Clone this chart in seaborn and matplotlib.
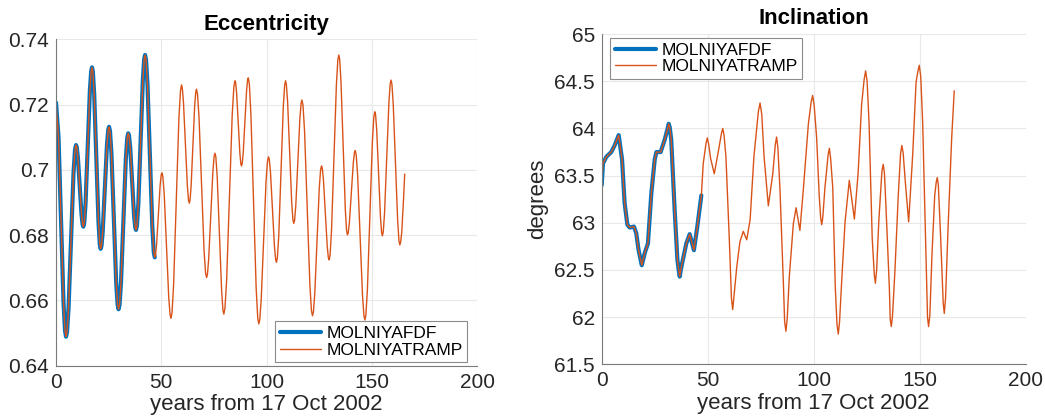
import seaborn as sns
import matplotlib.pyplot as plt
import pandas as pd

# eccentricity (years, value)
ecc_t = [0.0, 1.19, 3.56, 4.28,
         4.75, 5.23, 5.94, 8.31, 9.03,
         9.5, 9.85, 10.38, 12.13, 12.65,
         13.0, 13.41, 14.03, 16.08, 16.69,
         17.1, 17.51, 18.13, 20.18, 20.79,
         21.2, 21.6, 22.2, 24.2, 24.8,
         25.2, 25.65, 26.33, 28.58, 29.25,
         29.7, 30.16, 30.85, 33.15, 33.84,
         34.3, 34.67, 35.23, 37.08, 37.63,
         38.0, 38.43, 39.08, 41.23, 41.87,
         42.3, 42.76, 43.45, 45.75, 46.44,
         46.9, 47.24, 47.75, 49.45, 49.96,
         50.3, 50.73, 51.38, 53.53, 54.17,
         54.6, 55.1, 55.85, 58.35, 59.1,
         59.6, 59.97, 60.53, 62.38, 62.93,
         63.3, 63.64, 64.15, 65.85, 66.36,
         66.7, 67.18, 67.9, 70.3, 71.02,
         71.5, 71.9, 72.5, 74.5, 75.1,
         75.5, 75.92, 76.55, 78.65, 79.28,
         79.7, 80.23, 81.03, 83.68, 84.47,
         85.0, 85.31, 85.78, 87.33, 87.79,
         88.1, 88.42, 88.9, 90.5, 90.98,
         91.3, 91.8, 92.55, 95.05, 95.8,
         96.3, 96.76, 97.45, 99.75, 100.44,
         100.9, 101.28, 101.85, 103.75, 104.32,
         104.7, 105.13, 105.78, 107.93, 108.57,
         109.0, 109.39, 109.98, 111.93, 112.51,
         112.9, 113.29, 113.88, 115.83, 116.41,
         116.8, 117.3, 118.05, 120.55, 121.3,
         121.8, 122.23, 122.88, 125.03, 125.67,
         126.1, 126.46, 127.0, 128.8, 129.34,
         129.7, 130.16, 130.85, 133.15, 133.84,
         134.3, 134.71, 135.33, 137.38, 137.99,
         138.4, 138.77, 139.33, 141.18, 141.73,
         142.1, 142.56, 143.25, 145.55, 146.24,
         146.7, 147.17, 147.88, 150.23, 150.93,
         151.4, 151.76, 152.3, 154.1, 154.64,
         155.0, 155.41, 156.03, 158.08, 158.69,
         159.1, 159.52, 160.15, 162.25, 162.88,
         163.3, 163.7, 164.2, 165.0, 165.6]
ecc_v = [0.7206, 0.7101, 0.6594, 0.6507,
         0.6489, 0.6503, 0.6575, 0.6990, 0.7062,
         0.7076, 0.7070, 0.7039, 0.6862, 0.6832,
         0.6826, 0.6838, 0.6897, 0.7243, 0.7302,
         0.7314, 0.7300, 0.7233, 0.6839, 0.6772,
         0.6758, 0.6767, 0.6813, 0.7077, 0.7123,
         0.7132, 0.7118, 0.7050, 0.6655, 0.6587,
         0.6573, 0.6586, 0.6652, 0.7033, 0.7099,
         0.7112, 0.7105, 0.7069, 0.6859, 0.6823,
         0.6816, 0.6829, 0.6894, 0.7274, 0.7339,
         0.7352, 0.7337, 0.7261, 0.6823, 0.6747,
         0.6732, 0.6738, 0.6770, 0.6953, 0.6985,
         0.6991, 0.6980, 0.6926, 0.6610, 0.6556,
         0.6545, 0.6563, 0.6649, 0.7156, 0.7242,
         0.7260, 0.7251, 0.7207, 0.6951, 0.6907,
         0.6898, 0.6907, 0.6949, 0.7196, 0.7238,
         0.7247, 0.7233, 0.7163, 0.6754, 0.6684,
         0.6670, 0.6679, 0.6726, 0.6995, 0.7042,
         0.7051, 0.7039, 0.6979, 0.6630, 0.6570,
         0.6558, 0.6576, 0.6662, 0.7169, 0.7255,
         0.7273, 0.7267, 0.7235, 0.7050, 0.7018,
         0.7012, 0.7019, 0.7051, 0.7243, 0.7275,
         0.7282, 0.7264, 0.7172, 0.6638, 0.6546,
         0.6528, 0.6541, 0.6603, 0.6965, 0.7027,
         0.7040, 0.7032, 0.6993, 0.6764, 0.6725,
         0.6717, 0.6731, 0.6798, 0.7192, 0.7259,
         0.7273, 0.7262, 0.7209, 0.6900, 0.6847,
         0.6836, 0.6845, 0.6891, 0.7159, 0.7205,
         0.7214, 0.7198, 0.7117, 0.6650, 0.6569,
         0.6553, 0.6564, 0.6620, 0.6945, 0.7001,
         0.7012, 0.7005, 0.6970, 0.6766, 0.6731,
         0.6724, 0.6739, 0.6816, 0.7260, 0.7337,
         0.7352, 0.7339, 0.7272, 0.6881, 0.6814,
         0.6801, 0.6807, 0.6839, 0.7021, 0.7053,
         0.7059, 0.7046, 0.6983, 0.6616, 0.6553,
         0.6540, 0.6556, 0.6633, 0.7085, 0.7162,
         0.7178, 0.7169, 0.7123, 0.6853, 0.6807,
         0.6798, 0.6810, 0.6868, 0.7205, 0.7263,
         0.7275, 0.7263, 0.7201, 0.6844, 0.6782,
         0.6770, 0.6780, 0.6810, 0.6905, 0.6987]

# inclination (years, degrees)
inc_t = [0.0, 0.6, 2.2, 4.5, 6.1, 8.0, 9.6, 10.8, 12.1, 13.2,
         15.2, 16.3, 17.4, 18.9, 20.3, 21.8, 23.4, 25.0, 25.8, 27.8,
         29.7, 31.1, 31.6, 32.1, 32.8, 34.4, 35.7, 36.3, 36.8, 37.3,
         38.3, 39.9, 41.5, 43.5, 45.1, 47.0, 47.9, 49.2, 49.8, 50.4,
         51.4, 53.1, 55.2, 56.5, 57.1, 57.7, 58.6, 60.2, 61.2, 61.8,
         62.4, 63.7, 65.2, 66.8, 68.4, 70.0, 71.8, 73.9, 74.7, 75.5,
         76.6, 78.6, 80.7, 81.9, 82.5, 83.1, 84.1, 85.7, 86.3, 86.9,
         87.5, 88.5, 90.4, 91.7, 93.5, 95.1, 97.5, 98.8, 99.5, 100.2,
         101.4, 102.6, 103.3, 103.8, 104.3, 105.3, 106.8, 107.4, 108.0, 109.0,
         110.2, 111.0, 111.6, 112.2, 113.2, 114.8, 116.8, 119.2, 121.0, 122.6,
         123.8, 124.5, 125.2, 126.1, 127.6, 128.6, 129.1, 129.7, 130.7, 132.2,
         132.8, 133.4, 134.4, 135.7, 136.1, 136.6, 137.2, 138.3, 139.9, 141.0,
         141.6, 142.2, 143.2, 144.8, 146.7, 148.3, 149.1, 149.8, 150.5, 151.4,
         153.0, 153.7, 154.2, 154.8, 155.8, 157.1, 157.8, 158.3, 158.8, 159.9,
         161.1, 161.6, 162.2, 163.5, 165.1, 166.3]
inc_v = [63.40, 63.63, 63.70, 63.75, 63.82, 63.93, 63.67, 63.21, 62.98, 62.95,
         62.96, 62.89, 62.71, 62.55, 62.68, 62.78, 63.31, 63.67, 63.75, 63.75,
         63.88, 64.00, 64.05, 64.01, 63.88, 63.14, 62.61, 62.50, 62.43, 62.50,
         62.61, 62.78, 62.88, 62.71, 62.96, 63.29, 63.63, 63.84, 63.90, 63.84,
         63.68, 63.52, 63.78, 63.95, 64.00, 63.93, 63.70, 62.82, 62.20, 62.08,
         62.22, 62.53, 62.80, 62.91, 62.82, 63.03, 63.70, 64.18, 64.27, 64.15,
         63.70, 63.18, 63.52, 63.83, 63.91, 63.80, 63.35, 62.36, 61.95, 61.85,
         61.98, 62.43, 62.99, 63.16, 62.92, 63.35, 64.05, 64.28, 64.35, 64.25,
         63.90, 63.29, 63.05, 62.98, 63.06, 63.37, 63.72, 63.79, 63.68, 63.37,
         62.31, 61.92, 61.82, 61.95, 62.38, 63.01, 63.45, 63.04, 63.54, 64.25,
         64.52, 64.61, 64.50, 64.07, 62.84, 62.45, 62.36, 62.50, 63.01, 63.55,
         63.62, 63.52, 63.01, 62.31, 61.98, 61.90, 62.02, 62.48, 63.29, 63.74,
         63.82, 63.74, 63.44, 63.01, 63.72, 64.49, 64.60, 64.67, 64.55, 64.07,
         62.66, 62.00, 61.90, 62.02, 62.66, 63.29, 63.43, 63.48, 63.40, 62.84,
         62.15, 62.04, 62.20, 63.01, 63.90, 64.40]

afdf_end = 47.0  # MOLNIYAFDF only runs this far

ecc_yticks = [0.64, 0.66, 0.68, 0.70, 0.72, 0.74]
inc_yticks = [61.5, 62, 62.5, 63, 63.5, 64, 64.5, 65]
xticks = [0, 50, 100, 150, 200]

blue = "#0072BD"
orange = "#D95319"
txt = "#262626"

sns.set_style("white")
plt.rcParams["font.family"] = ["Liberation Sans", "DejaVu Sans"]

fig = plt.figure(figsize=(10.45, 4.19), dpi=100)
ax1 = fig.add_axes([0.0536, 0.1272, 0.403, 0.779])
ax2 = fig.add_axes([0.5758, 0.1305, 0.4057, 0.788])

ecc = pd.DataFrame({"t": ecc_t, "v": ecc_v})
inc = pd.DataFrame({"t": inc_t, "v": inc_v})


def draw(ax, df, title, yticks):
    short = df[df["t"] <= afdf_end]
    sns.lineplot(data=short, x="t", y="v", ax=ax, color=blue, lw=3.0,
                 estimator=None, sort=False, label="MOLNIYAFDF")
    sns.lineplot(data=df, x="t", y="v", ax=ax, color=orange, lw=1.0,
                 estimator=None, sort=False, label="MOLNIYATRAMP")
    ax.set_xlim(0, 200)
    ax.set_ylim(yticks[0], yticks[-1])
    ax.set_xticks(xticks)
    ax.set_yticks(yticks)
    ax.set_yticklabels([f"{v:g}" for v in yticks])
    ax.grid(True, color="#e8e8e8", lw=0.8)
    for side in ["top", "right"]:
        ax.spines[side].set_visible(False)
    for side in ["left", "bottom"]:
        ax.spines[side].set_color("#7a7a7a")
        ax.spines[side].set_linewidth(0.8)
    ax.tick_params(direction="in", length=4, width=0.8, color="#7a7a7a",
                   labelsize=15, labelcolor=txt, pad=5)
    ax.set_title(title, fontsize=16, fontweight="bold", color="black", pad=7)
    ax.set_xlabel("years from 17 Oct 2002", fontsize=16, color=txt, labelpad=2)


draw(ax1, ecc, "Eccentricity", ecc_yticks)
ax1.set_ylabel("")
draw(ax2, inc, "Inclination", inc_yticks)
ax2.set_ylabel("degrees", fontsize=16, color=txt, labelpad=4)

leg_kw = dict(fontsize=12.5, frameon=True, fancybox=False, framealpha=1,
              edgecolor="#8c8c8c", borderaxespad=0, handlelength=2.4,
              handletextpad=0.3, borderpad=0.25, labelspacing=0.1)
l1 = ax1.legend(loc="lower right", bbox_to_anchor=(0.976, 0.011), **leg_kw)
l2 = ax2.legend(loc="upper left", bbox_to_anchor=(0.02, 0.988), **leg_kw)
for leg in (l1, l2):
    leg.get_frame().set_linewidth(0.8)
    for t in leg.get_texts():
        t.set_color("black")

fig.savefig("out.png", dpi=100)
